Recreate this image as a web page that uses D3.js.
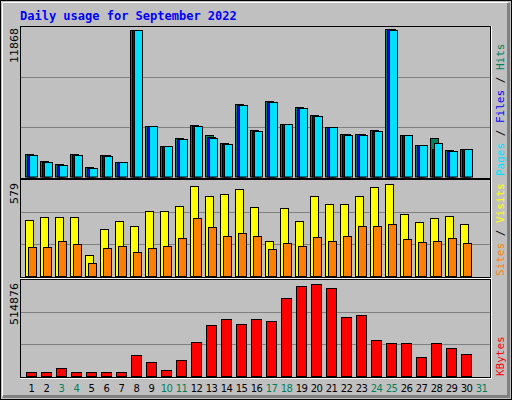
<!DOCTYPE html><html><head><meta charset="utf-8">
<script src="https://cdn.jsdelivr.net/npm/d3@7"></script>
<style>body{margin:0;background:#fff}</style></head><body>
<script>
const days = d3.range(1, 32);
const weekendDays = [3,4,10,11,17,18,24,25,31];
const hits = [1810,1247,1006,1810,764,1730,1167,11790,4063,2454,3098,4144,3339,2695,5833,3741,6075,4224,5592,4948,3983,3420,3420,3741,11868,3339,2535,3098,2132,2213];
const files = [1760,1200,960,1760,720,1690,1167,11787,4063,2454,3050,4100,3180,2650,5790,3700,6030,4224,5550,4900,3983,3380,3380,3700,11830,3339,2535,2213,2052,2213];
const pages = [1730,1167,925,1730,684,1649,1167,11787,4063,2454,3017,4063,3098,2615,5753,3661,5994,4224,5511,4868,3983,3339,3339,3661,11790,3339,2535,2695,2052,2213];
const visits = [352,371,371,371,132,296,346,315,409,409,440,566,503,516,547,434,220,428,346,503,453,453,503,560,579,390,340,365,377,327];
const sites = [182,182,220,201,82,176,189,151,176,189,239,365,308,252,270,252,170,208,189,245,220,252,315,315,327,233,214,220,239,208];
const kbytes = [22388,22388,44776,22388,22388,22388,22388,117537,78358,33582,89552,190298,285447,319029,291044,319029,307835,436566,503730,514876,492537,330223,341418,201492,184701,184701,106343,184701,156716,123134];
const maxLabels = ["11868","579","514876"];

const W=512,H=400;
const svg=d3.select("body").append("svg").attr("width",W).attr("height",H);
svg.append("rect").attr("width",W).attr("height",H).attr("fill","#c0c0c0");
svg.append("rect").attr("x",0.5).attr("y",0.5).attr("width",W-1).attr("height",H-1).attr("fill","none").attr("stroke","#000");
svg.append("path").attr("d",`M${W-3.5},3 V${H-3.5} H3`).attr("fill","none").attr("stroke","#808080").attr("stroke-width",3);
svg.append("path").attr("d",`M2.5,${H-4} V2.5 H${W-4}`).attr("fill","none").attr("stroke","#fff").attr("stroke-width",1);

svg.append("text").attr("x",20).attr("y",20).attr("fill","#0000ff").attr("font-family","DejaVu Sans Mono, monospace").attr("font-weight","bold").attr("font-size",12).text("Daily usage for September 2022");

const x=d3.scaleBand().domain(days).range([25,490]);
const panels=[{t:26,b:178},{t:179,b:277},{t:279,b:377}];
panels.forEach(p=>{
  svg.append("rect").attr("x",20.5).attr("y",p.t+0.5).attr("width",470).attr("height",p.b-p.t).attr("fill","#c0c0c0").attr("stroke","#000");
  svg.append("path").attr("d",`M20,${p.b+1.5} H491.5 V${p.t}`).attr("fill","none").attr("stroke","#fff");
  [1/3,2/3].forEach(f=>svg.append("line").attr("x1",21).attr("x2",490).attr("y1",Math.round(p.t+(p.b-p.t)*f)+0.5).attr("y2",Math.round(p.t+(p.b-p.t)*f)+0.5).attr("stroke","#808080"));
});
const y1=d3.scaleLinear().domain([0,11868]).range([176.5,29]);
const y2=d3.scaleLinear().domain([0,579]).range([276,184]);
const y3=d3.scaleLinear().domain([0,514876]).range([376,284]);

function bars(data,y,off,w,color){
  svg.append("g").selectAll("rect").data(data).join("rect")
   .attr("x",(d,i)=>x(i+1)+off+0.5).attr("y",d=>Math.round(y(d))+0.5)
   .attr("width",w).attr("height",d=>Math.max(0,y.range()[0]-Math.round(y(d))))
   .attr("fill",color).attr("stroke","#000");
}
bars(hits,y1,0,8,"#00805c");
bars(files,y1,2,8,"#0000ff");
bars(pages,y1,4,8,"#00e0ff");
bars(visits,y2,0,8,"#ffff00");
bars(sites,y2,3,8,"#ff8000");
bars(kbytes,y3,1,10,"#ff0000");

const lf="DejaVu Sans, sans-serif";
[[28,0],[183,1],[283,2]].forEach(([yy,i])=>{
  svg.append("text").attr("transform",`translate(18,${yy}) rotate(-90)`).attr("text-anchor","end").attr("font-family",lf).attr("font-size",11).attr("fill","#000").text(maxLabels[i]);
});
function rlabel(yb,parts){
  const t=svg.append("text").attr("transform",`translate(504,${yb}) rotate(-90)`).attr("font-family","DejaVu Sans Mono, monospace").attr("font-size",11).attr("xml:space","preserve");
  parts.forEach(([s,c])=>t.append("tspan").attr("fill",c).text(s));
}
rlabel(176,[["Pages","#00e0ff"],[" / ","#000"],["Files","#0000ff"],[" / ","#000"],["Hits","#00805c"]]);
rlabel(276,[["Sites","#ff8000"],[" / ","#000"],["Visits","#ffff00"]]);
rlabel(376,[["KBytes","#ff0000"]]);

svg.append("g").selectAll("text").data(days).join("text")
 .attr("x",d=>x(d)+x.bandwidth()/2-1).attr("y",392).attr("text-anchor","middle")
 .attr("font-family",lf).attr("font-size",10).attr("letter-spacing",-0.5)
 .attr("fill",d=>weekendDays.includes(d)?"#00805c":"#000").text(d=>d);
</script></body></html>
